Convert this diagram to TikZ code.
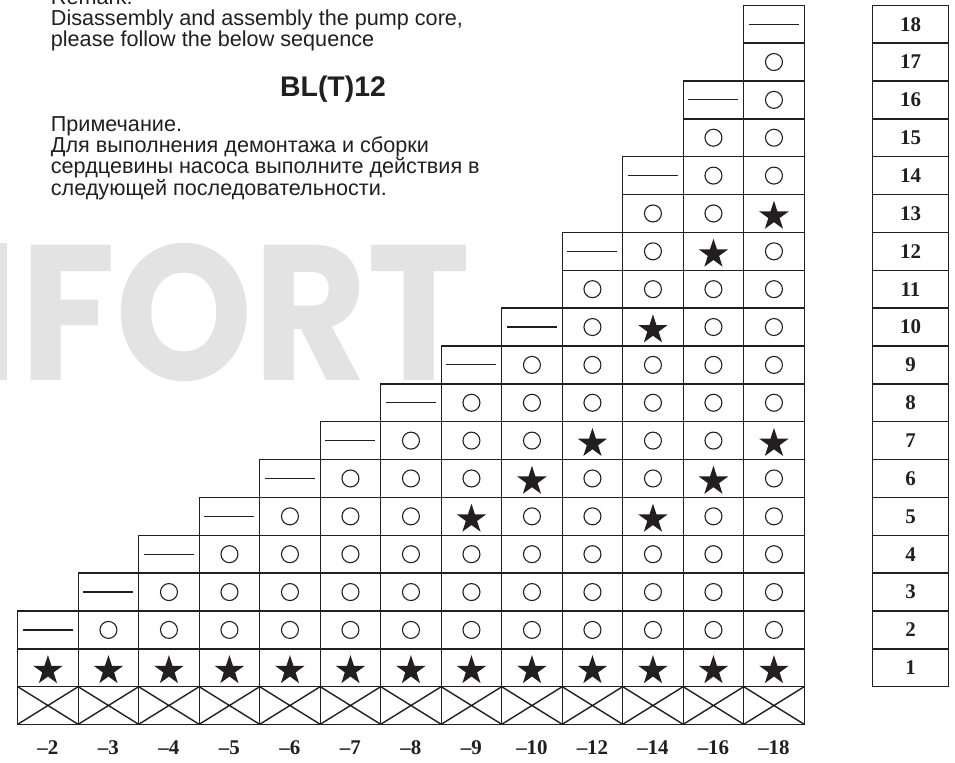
\documentclass[tikz,border=0pt]{standalone}
\usepackage{graphicx}
\usepackage{fontspec}
\setmainfont{Liberation Sans}
\newfontfamily\tnr{Liberation Serif}
\newfontfamily\wmfont{Poppins}
\usetikzlibrary{shapes.geometric}
\definecolor{ink}{HTML}{231F20}
\definecolor{wmgray}{HTML}{E3E3E3}
\begin{document}
\begin{tikzpicture}[x=1bp,y=-1bp]
\tikzset{
 gridline/.style={draw=ink, line width=1.4bp},
 circ/.style={circle, draw=ink, line width=1.1bp, minimum size=17bp, inner sep=0pt},
 starm/.style={star, star points=5, star point ratio=2.618, fill=ink, draw=none, minimum size=31bp, inner sep=0pt},
 dashm/.style={draw=ink, line width=1.2bp},
 txt/.style={anchor=base west, inner sep=0pt, text=ink, font=\fontsize{21.7}{22}\selectfont},
 numl/.style={inner sep=0pt, text=ink, font=\tnr\bfseries\fontsize{21}{21}\selectfont},
}
\useasboundingbox[fill=white] (0,0) rectangle (955,763);
% watermark
\fill[wmgray] (0,243) rectangle (7,380);
\node[anchor=north west, inner sep=0pt, text=wmgray] (wm) at (20,243) {\resizebox{450bp}{137bp}{\wmfont\bfseries FORT}};
% texts
\node[txt] (rem) at (50.7,4.5) {Remark:};
\node[txt] (e1) at (50.7,25.6) {Disassembly and assembly the pump core,};
\node[txt] (e2) at (50.7,46.7) {please follow the below sequence};
\node[anchor=base, inner sep=0pt, text=ink, font=\bfseries\fontsize{28.5}{28.5}\selectfont] (title) at (333,96) {BL(T)12};
\node[txt] (r0) at (50.7,131.7) {Примечание.};
\node[txt] (r1) at (50.7,152.8) {Для выполнения демонтажа и сборки};
\node[txt] (r2) at (50.7,173.9) {сердцевины насоса выполните действия в};
\node[txt] (r3) at (50.7,195) {следующей последовательности.};
% main grid
\foreach \i/\n/\sa/\sb in {0/2/0/0,1/3/0/0,2/4/0/0,3/5/0/0,4/6/0/0,5/7/0/0,6/8/0/0,7/9/5/0,8/10/6/0,9/12/7/0,10/14/5/10,11/16/6/12,12/18/7/13}{
  \pgfmathsetmacro\xl{17.7+60.5*\i}
  \pgfmathsetmacro\xc{\xl+30.25}
  \foreach \r in {1,...,\n}{
    \draw[gridline] (\xl,{686.7-37.86*\r}) rectangle ++(60.5,37.86);
  }
  \draw[gridline] (\xl,686.7) rectangle (\xl+60.5,724.3);
  \draw[gridline] (\xl,686.7) -- (\xl+60.5,724.3) (\xl,724.3) -- (\xl+60.5,686.7);
  \node[starm] (s-\i-1) at (\xc,670.6) {};
  \draw[dashm] (\xc-25,{686.7-37.86*(\n-0.5)}) -- ++(50,0);
  \ifnum\n>2
    \pgfmathtruncatemacro\m{\n-1}
    \foreach \r in {2,...,\m}{
      \pgfmathsetmacro\yc{686.7-37.86*(\r-0.5)}
      \ifnum\r=\sa
        \node[starm] (s-\i-\r) at (\xc,\yc+2.8) {};
      \else\ifnum\r=\sb
        \node[starm] (s-\i-\r) at (\xc,\yc+2.8) {};
      \else
        \node[circ] (o-\i-\r) at (\xc,\yc) {};
      \fi\fi
    }
  \fi
  \node[numl] (l-\i) at (\xc,748) {–\n};
}
% right table
\foreach \r in {1,...,18}{
  \draw[gridline] (872.7,{686.7-37.86*\r}) rectangle (948.3,{686.7-37.86*(\r-1)});
  \node[numl] (rl-\r) at (910.5,{686.7-37.86*(\r-0.5)}) {\r};
}
\end{tikzpicture}
\end{document}
